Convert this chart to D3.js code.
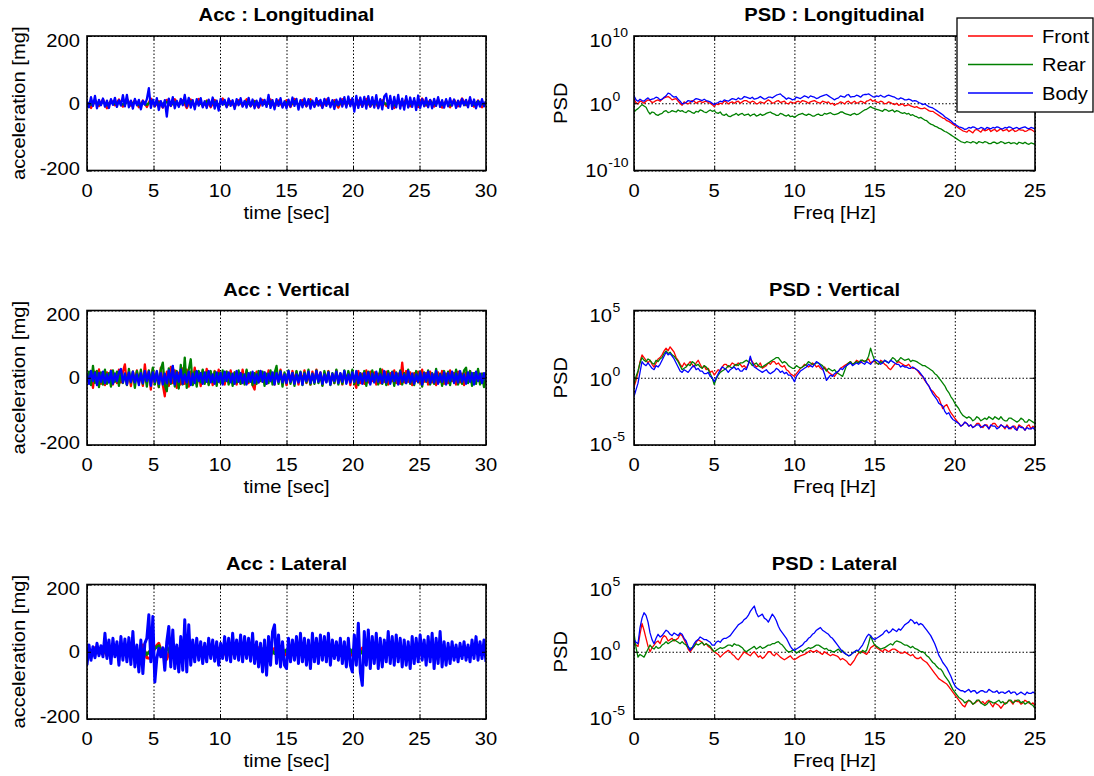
<!DOCTYPE html>
<html>
<head>
<meta charset="utf-8">
<script src="https://cdn.jsdelivr.net/npm/d3@7"></script>
<style>
body { margin: 0; background: #fff; }
svg text { font-family: Arial, "Liberation Sans", Helvetica, sans-serif; fill: #000; }
</style>
</head>
<body>
<svg id="fig" width="1094" height="776"></svg>
<script>
// ---- tick labels / categories ----
var timeTicks = [0, 5, 10, 15, 20, 25, 30];
var accTicks = [-200, 0, 200];
var freqTicks = [0, 5, 10, 15, 20, 25];
var psdTicksLon = [-10, 0, 10];     // exponents of 10
var psdTicksVL = [-5, 0, 5];
var sensorNames = ["Front", "Rear", "Body"];
var sensorColors = ["#ff0000", "#008000", "#0000ff"];

// ---- acceleration [mg], evenly sampled over 0..30 s ----
var accLonFront = [3,-14,10,-8,12,-15,9,-6,11,-10, 13,-7,9,-12,8,-11,14,-9,6,-13, 10,-8,12,-6,9,-14,11,-7,13,-9,
  8,-12,10,-7,14,-10,6,-11,9,-8, 12,-9,7,-13,10,-6,11,-12,8,-10, 9,-11,13,-7,10,-9,12,-8,6,-12,
  11,-8,9,-13,12,-7,10,-11,8,-9, 13,-10,7,-12,9,-8,11,-14,10,-6, 12,-9,8,-11,14,-7,9,-10,12,-13,
  8,-12,10,-9,14,-6,11,-10,8,-12, 5];
var accLonRear = [2,-5,6,-3,4,-6,5,-2,3,-4, 5,-3,4,-6,2,-5,6,-4,3,-2, 4,-5,3,-6,5,-2,6,-4,2,-5,
  6,-3,4,-5,3,-6,2,-4,5,-3, 4,-6,5,-2,3,-5,6,-3,4,-4, 3,-5,6,-4,2,-3,5,-6,4,-2,
  5,-4,3,-6,6,-2,4,-5,3,-3, 6,-5,2,-4,5,-3,4,-6,3,-2, 4,-3,6,-5,2,-4,5,-3,6,-5,
  3,-6,4,-2,5,-4,3,-5,6,-3, 2];
var accLonBody = [5,-12,18,-8,22,-15,10,-6,14,-10, 8,-14,12,-5,16,-11,9,-7,24,-9, 25,-12,8,-16,13,-6,10,-18,7,-4,
  12,45,-14,11,-9,15,-20,6,-12,9, -40,14,-8,18,-15,7,-11,13,-6,25, -10,16,-13,9,-18,12,-7,15,-12,6,
  -14,11,-9,17,-16,8,-22,13,-5,10, -12,14,-8,9,-17,12,-6,15,-10,7, -13,16,-9,11,-15,8,-12,14,-7,10,
  -11,25,-14,9,-18,12,-8,15,-13,6, -15,11,-10,17,-8,13,-19,9,-12,14, -9,12,-16,8,-11,15,-7,10,-14,13,
  -8,16,-12,9,-17,11,-6,14,-10,18, -13,20,-9,15,-25,22,-14,17,-11,19, -16,21,-10,18,-13,24,-15,12,-18,20,
  28,-14,22,-17,19,-12,25,-16,14,-19, 21,-13,17,-11,15,-20,23,-14,12,-9, 16,-12,10,-15,13,-8,18,-11,9,-13,
  12,-9,15,-7,11,-14,8,-10,13,-6, 10,-12,18,-8,11,-15,7,-10,12,-9, 6];

var accVerFront = [8,-15,20,-30,18,-12,25,-18,14,-22, 16,-10,22,-20,12,-16,24,-14,18,40, -20,15,-25,18,-12,22,-16,10,-24,40,
  -15,20,-35,26,-18,14,-28,30,-22,-55, 18,-24,32,-16,22,-30,15,-20,28,-18, 24,-26,18,-14,30,-20,16,-25,22,-12,
  26,-18,14,-22,20,-10,24,-16,12,-20, 18,-14,22,-12,16,-20,14,-18,24,-10, 20,-16,12,-22,-35,18,-14,20,-12,16,
  -18,22,-10,14,-20,18,-12,24,-16,10, -22,16,-14,20,-12,18,-20,14,-10,22, -16,12,-20,18,-14,24,-10,16,-22,14,
  -12,20,-18,10,-16,22,-14,12,-20,18, -10,16,-22,14,-12,-30,20,-16,12,-18, 22,-14,18,-10,16,-20,12,-16,24,-12,
  18,-20,14,-10,22,-16,12,-18,45,-14, 20,-12,16,-22,14,-10,18,-16,24,-12, 14,-20,18,-14,10,-22,16,-12,20,-18,
  12,-16,22,-10,14,-20,18,-14,12,-22, 16,-12,20,-18,14,-10,22,-16,12,-20, 10];
var accVerRear = [-10,18,-22,35,-15,20,-28,16,-20,24, -18,14,-26,22,-12,18,-24,20,-16,12, -22,26,-14,18,-30,20,-12,24,-18,16,
  -26,22,-14,30,-20,18,-28,24,45,-22, -40,28,-18,34,-26,20,-32,38,-20,60, -30,24,55,-22,18,-26,20,-14,24,-18,
  16,-22,20,-12,18,-24,14,-16,22,-10, 18,-20,12,-24,16,-14,22,-18,10,-20, 24,-12,16,-22,14,-18,20,-10,18,-24,
  12,-16,22,-20,14,35,-18,20,-26,16, -12,22,-18,14,-24,20,-10,18,-22,16, -14,24,-20,12,-18,22,-16,10,-24,20,
  -12,18,-22,14,-16,24,-20,12,-18,22, -14,20,-10,24,-18,16,-22,14,-12,20, -24,18,-16,22,-12,14,-20,26,-18,12,
  -22,20,-14,18,-24,16,-12,22,-20,14, -16,24,-18,12,-22,20,-14,18,-26,16, -12,22,-20,14,-18,26,-16,12,-24,20,
  -14,18,-22,16,-12,24,-20,14,-18,22, 30,-16,20,-24,14,-18,26,-20,12,-28, 16];
var accVerBody = [12,-18,20,-10,16,-22,14,-12,18,-16, 10,-14,20,-18,12,-10,16,26,-14,12, -20,16,-12,18,-14,10,-22,14,-16,20,
  -10,18,-24,16,-12,20,-18,14,-20,12, -16,22,-14,35,-20,16,-12,24,-18,10, -14,18,-22,12,-16,20,-10,14,-18,16,
  -12,20,-14,10,-18,16,-12,14,-20,18, -10,16,-14,12,-18,20,-12,14,-16,10, -20,14,-12,18,-16,10,-14,20,-12,16,
  -18,12,-10,16,-20,14,-12,18,-14,10, -16,20,-12,14,-18,10,-14,16,-20,12, -10,18,-16,12,-14,20,-12,16,-18,10,
  -14,16,-20,12,-10,18,-16,14,-12,20, -18,10,-14,16,-12,20,-16,12,-18,14, -10,16,-20,12,-14,18,-12,10,-16,20,
  -14,12,-18,16,-10,14,-20,18,-12,10, -16,20,-14,12,-18,10,-12,16,-20,14, -10,18,-16,12,-14,20,-18,10,-12,16,
  -20,14,-10,18,-16,12,-14,20,-12,10, -18,16,-12,14,-20,18,-10,12,-16,14, -8];

var accLatFront = [8,-10,12,-6,10,-12,9,-8,11,-7, 10,-9,8,-12,20,-18,-20,12,25,-15, -22,14,-10,9,-12,8,-11,10,-8,12,
  -9,11,-7,10,-12,8,-10,9,-6,11, -12,10,-8,12,-9,7,-11,10,-8,9, -10,12,-7,9,-11,8,-10,12,-9,7,
  -11,10,-8,12,-6,9,-12,10,-7,11, -9,8,-12,10,-7,11,-10,9,-8,12, -10,7,-9,11,-12,8,-6,10,-11,9,
  -8,12,-10,7,-9,11,-8,10,15,-6, 8];
var accLatRear = [5,-8,7,-4,9,-6,8,-5,6,-7, 8,-5,7,-9,6,-8,5,10,18,-12, 15,-8,6,-7,9,-5,8,-6,7,-9,
  5,-8,9,-6,7,-5,8,-9,6,-4, 10,-7,5,-8,9,-6,7,-5,8,-7, 6,-9,8,-5,7,-8,9,-6,5,-7,
  8,-6,9,-5,7,-8,6,-9,8,-4, 7,-8,5,-6,9,-7,8,-5,6,-9, 8,-5,7,-9,6,-4,8,-7,9,-6,
  5,-8,7,-6,9,-5,8,12,-6,7, -4];
var accLatBody = [-40,20,-25,15,-18,25,-12,18,-15,55, -20,35,-35,40,-15,30,-40,45,-25,38, -30,42,-38,60,-45,20,-60,35,-65,25,
  40,110,-30,105,-90,-20,10,-15,12,-55, 30,75,-45,65,-50,20,-60,45,-55,95, -60,80,-40,35,-30,40,-25,30,-35,25,
  -30,40,-20,35,-28,30,-40,25,-20,45, -25,40,-30,55,-20,35,-25,50,-30,45, -20,40,-28,55,-35,30,-45,25,-60,35,
  -70,45,-40,60,80,-35,50,-45,30,-40, -50,40,-30,35,-25,45,-35,55,-30,40, -40,35,-50,55,-30,40,-35,50,-25,45,
  -30,55,-40,35,-20,30,-25,40,-35,30, -45,40,-40,-60,50,-40,85,-60,-100,60, -40,65,-50,45,-35,55,-50,40,-45,35,
  -30,60,-35,45,-40,50,-30,40,-45,35, -40,30,-50,45,-35,40,-30,50,-25,35, -40,45,-30,55,-50,40,-35,60,-45,30,
  -40,25,-35,30,-25,20,-30,25,-20,30, -25,20,-30,35,-20,45,-25,30,-20,35, -30];

// ---- PSD, log10 values, evenly sampled over 0..25 Hz (0.125 Hz step) ----
var psdLonFront = [0.6,0.1,-0.1,0.3,0.2,0.0,0.3,0.5,0.4,0.1,0.2,0.4,0.5,0.3,0.6,0.8,0.9,1.0,0.8,0.5,
  0.6,0.7,0.3,0.0,-0.3,0.2,0.0,-0.1,0.1,0.4,0.3,0.0,0.2,0.3,0.1,0.2,0.3,0.1,0.0,-0.2,
  -0.5,-0.1,-0.2,0.0,-0.1,0.3,0.2,-0.1,0.1,0.2,0.0,0.2,0.3,0.0,0.2,0.4,0.4,0.2,0.1,0.3,
  0.2,-0.1,0.0,0.2,0.1,0.0,0.3,0.5,0.3,0.0,0.1,0.3,0.4,0.1,0.2,0.3,0.0,-0.1,0.2,0.1,
  0.0,0.2,0.3,0.1,0.4,0.3,0.2,0.0,0.2,0.3,0.4,0.2,0.1,0.0,0.3,0.2,0.1,0.2,-0.1,0.0,
  -0.3,-0.1,0.0,0.2,0.1,-0.1,0.2,0.3,0.0,0.1,0.3,0.0,0.1,0.3,0.2,0.0,0.3,0.4,0.6,0.3,
  0.4,0.2,0.1,0.3,0.2,-0.1,0.0,0.2,0.1,-0.1,-0.2,0.0,-0.3,-0.2,-0.1,-0.4,-0.3,-0.2,-0.4,-0.5,
  -0.6,-0.5,-0.7,-0.8,-0.8,-0.7,-0.9,-1.1,-1.2,-1.2,-1.4,-1.6,-1.8,-2.0,-2.2,-2.3,-2.6,-2.7,-2.9,-3.1,
  -3.3,-3.5,-3.7,-3.9,-4.1,-4.2,-4.3,-4.0,-4.2,-4.4,-4.0,-3.9,-4.1,-4.3,-3.9,-4.1,-4.0,-3.8,-4.2,-4.0,
  -3.9,-4.2,-4.0,-3.8,-4.1,-4.0,-3.9,-4.2,-4.0,-3.9,-4.2,-4.1,-3.9,-4.0,-4.0,-4.2,-4.1,-3.9,-3.9,-4.1,
  -4.3];
var psdLonRear = [-1.3,-1.0,-0.8,-0.5,-0.2,-0.4,-0.6,-1.2,-1.6,-1.3,-1.4,-1.7,-1.8,-1.6,-1.5,-1.2,-1.1,-1.4,-1.3,-1.1,
  -1.2,-1.3,-1.0,-1.2,-1.1,-1.3,-1.4,-1.1,-1.2,-1.4,-1.5,-1.2,-1.3,-1.0,-1.1,-1.3,-1.4,-1.2,-1.0,-1.2,
  -1.1,-1.4,-1.5,-1.3,-1.7,-1.8,-1.6,-1.9,-2.0,-1.8,-1.7,-1.5,-1.8,-1.6,-1.5,-1.8,-1.7,-1.6,-1.9,-1.7,
  -1.6,-1.9,-1.8,-1.6,-1.8,-1.7,-1.5,-1.4,-1.3,-1.5,-1.6,-1.8,-1.8,-1.5,-1.6,-1.8,-1.9,-1.7,-2.0,-1.9,
  -2.1,-1.9,-1.7,-1.6,-1.5,-1.7,-1.8,-1.6,-1.7,-1.9,-1.9,-1.7,-1.6,-1.8,-1.8,-1.5,-1.6,-1.5,-1.4,-1.6,
  -1.7,-1.6,-1.5,-1.3,-1.3,-1.5,-1.6,-1.7,-1.8,-1.6,-1.5,-1.7,-1.6,-1.4,-1.2,-1.0,-0.9,-0.7,-0.5,-0.7,
  -0.8,-0.9,-1.0,-1.1,-1.2,-0.9,-1.0,-1.2,-1.1,-1.0,-1.3,-1.1,-1.2,-1.4,-1.5,-1.4,-1.6,-1.5,-1.8,-1.7,
  -1.9,-2.0,-2.2,-2.1,-2.3,-2.5,-2.6,-2.9,-3.1,-3.2,-3.4,-3.5,-3.7,-3.8,-4.0,-4.2,-4.3,-4.5,-4.7,-4.9,
  -5.1,-5.3,-5.5,-5.7,-5.8,-5.9,-5.7,-5.8,-5.9,-5.7,-5.8,-6.0,-5.7,-5.8,-5.9,-5.7,-5.8,-6.0,-6.0,-5.8,
  -5.8,-6.0,-5.9,-5.7,-5.8,-6.0,-5.9,-5.8,-6.0,-5.9,-5.9,-6.1,-5.8,-5.9,-6.0,-5.8,-6.0,-6.1,-5.9,-6.0,
  -6.1];
var psdLonBody = [1.1,0.5,0.3,0.6,0.4,0.3,0.6,0.8,0.5,0.6,0.7,0.9,0.8,0.5,0.6,0.9,1.1,1.5,1.4,1.1,
  0.9,1.0,0.6,0.3,-0.1,0.0,0.1,0.4,0.3,0.2,0.5,0.7,0.6,0.5,0.4,0.6,0.4,0.3,0.2,0.0,
  -0.2,0.0,0.1,0.3,0.2,0.5,0.4,0.3,0.5,0.7,0.6,0.5,0.8,0.6,0.7,1.0,0.9,0.8,0.7,0.9,
  0.6,0.7,0.8,1.0,0.8,0.6,0.7,0.9,0.9,0.8,1.0,1.2,1.3,1.4,1.1,0.9,0.6,0.8,0.7,0.5,
  0.6,0.9,0.8,0.7,0.9,1.1,1.0,0.8,1.1,1.0,0.9,0.7,0.8,1.0,1.1,1.2,1.3,1.1,0.9,0.7,
  0.5,0.7,0.8,1.1,1.0,0.9,1.2,1.3,0.9,1.0,1.0,1.2,1.1,0.9,1.2,1.3,1.3,1.4,1.2,1.0,
  0.9,1.1,1.0,1.2,1.0,0.9,1.1,1.2,1.1,1.0,0.9,0.7,0.6,0.8,0.7,0.5,0.5,0.6,0.5,0.3,
  0.4,0.3,0.1,0.0,-0.2,-0.1,-0.3,-0.5,-0.6,-0.7,-0.9,-1.1,-1.3,-1.5,-1.7,-2.0,-2.2,-2.4,-2.6,-2.9,
  -3.1,-3.3,-3.5,-3.6,-3.7,-3.9,-3.8,-3.6,-3.7,-3.5,-3.6,-3.8,-3.8,-3.6,-3.7,-3.9,-3.6,-3.7,-3.8,-3.6,
  -3.7,-3.5,-3.6,-3.8,-3.8,-3.6,-3.7,-3.5,-3.6,-3.8,-3.7,-3.6,-3.8,-3.7,-3.6,-3.5,-3.7,-3.8,-3.6,-3.7,
  -3.8];

var psdVerFront = [-0.7,-0.2,0.4,1.2,1.7,1.5,1.3,1.1,1.3,1.0,0.8,1.1,1.4,1.5,1.7,2.0,2.2,2.0,2.3,2.1,
  1.9,1.5,1.3,1.0,0.8,1.1,0.9,1.0,1.2,1.0,0.8,1.1,1.3,1.0,0.7,0.9,0.6,0.7,0.4,0.5,
  0.2,0.4,0.6,0.5,0.8,1.0,1.0,0.8,0.9,1.1,1.0,0.9,1.1,1.0,0.8,0.9,0.7,1.0,1.4,1.2,
  1.0,0.8,0.9,1.1,0.7,0.8,0.9,1.1,1.0,1.2,1.2,1.0,1.1,0.9,0.8,0.9,0.6,0.5,0.3,0.2,
  0.1,0.3,0.5,0.7,0.8,1.0,0.9,0.8,0.9,1.1,1.0,0.8,0.9,0.7,0.6,0.8,0.6,0.4,0.3,0.2,
  0.1,0.3,0.5,0.7,0.8,0.9,1.0,1.1,1.2,1.0,1.1,1.3,1.2,1.1,1.3,1.2,1.3,1.4,1.1,1.2,
  1.2,1.1,1.0,1.3,1.2,1.0,0.9,0.7,0.6,0.8,1.0,1.1,1.2,1.1,1.0,0.9,0.9,1.0,0.8,0.7,
  0.7,0.6,0.4,0.2,0.1,-0.2,-0.4,-0.6,-0.9,-1.0,-1.2,-1.4,-1.5,-1.9,-2.3,-2.1,-2.0,-2.3,-2.6,-2.8,
  -3.0,-3.2,-3.4,-3.6,-3.5,-3.3,-3.4,-3.6,-3.5,-3.7,-3.6,-3.4,-3.4,-3.6,-3.7,-3.5,-3.5,-3.8,-3.6,-3.4,
  -3.4,-3.6,-3.7,-3.5,-3.6,-3.8,-3.5,-3.7,-3.8,-3.6,-3.6,-3.9,-3.5,-3.6,-3.7,-3.9,-3.6,-3.5,-3.8,-3.6,
  -3.7];
var psdVerRear = [-0.5,0.1,0.5,1.1,1.5,1.3,1.2,1.4,1.3,1.1,1.0,1.3,1.2,1.4,1.5,1.8,2.0,1.8,1.9,1.7,
  1.6,1.4,1.2,0.9,0.6,0.7,0.8,1.0,0.9,1.2,1.1,0.9,1.0,0.8,0.7,0.9,0.8,0.6,0.3,0.0,
  -0.5,-0.1,0.2,0.4,0.5,0.6,0.7,0.9,0.8,0.7,0.9,1.0,0.9,1.1,1.1,1.2,1.3,1.2,1.1,0.9,
  1.0,1.1,0.9,0.8,0.8,0.9,1.0,1.1,1.2,1.3,1.4,1.5,1.5,1.3,1.1,1.2,1.1,0.9,0.8,0.7,
  0.7,0.9,0.8,0.7,0.8,0.9,1.0,1.2,1.1,1.0,1.0,1.1,1.1,1.0,0.9,0.7,0.5,0.7,0.6,0.5,
  0.6,0.4,0.3,0.2,0.1,0.5,0.9,1.1,1.2,1.0,1.1,1.2,1.1,1.3,1.3,1.2,1.3,1.6,2.2,1.7,
  1.3,1.1,1.0,1.2,1.1,1.3,1.2,1.1,1.3,1.5,1.4,1.2,1.3,1.5,1.4,1.3,1.35,1.4,1.2,1.3,
  1.25,1.2,1.1,1.0,0.9,0.9,0.8,0.7,0.6,0.5,0.3,0.2,0.0,-0.2,-0.4,-0.6,-0.9,-1.1,-1.4,-1.6,
  -1.9,-2.1,-2.3,-2.6,-2.8,-2.9,-3.0,-2.9,-3.0,-3.2,-3.1,-2.9,-3.0,-3.2,-3.1,-3.0,-3.1,-2.9,-3.0,-3.1,
  -2.9,-3.0,-3.1,-2.9,-3.1,-3.2,-3.2,-3.0,-3.0,-3.1,-3.2,-3.3,-3.2,-3.0,-3.1,-3.3,-3.3,-3.1,-3.2,-3.3,
  -3.4];
var psdVerBody = [-1.4,-0.9,-0.4,0.4,1.2,1.0,0.9,1.1,0.9,0.7,0.6,0.9,0.8,1.0,1.3,1.6,1.9,1.7,1.8,1.6,
  1.4,1.1,0.8,0.5,0.4,0.6,0.5,0.4,0.6,0.8,0.9,0.6,0.7,0.5,0.5,0.3,0.3,0.4,0.1,0.0,
  -0.3,0.0,0.3,0.6,0.8,0.7,0.6,0.4,0.6,0.7,0.8,0.6,0.7,0.5,0.5,0.7,0.6,1.0,1.6,1.1,
  0.8,0.7,0.6,0.5,0.4,0.5,0.6,0.4,0.3,0.4,0.5,0.7,0.6,0.4,0.5,0.3,0.4,0.2,0.2,0.0,
  -0.3,0.1,0.3,0.5,0.6,0.7,0.8,1.0,0.9,0.8,1.0,1.2,1.1,0.9,0.7,0.3,-0.2,0.0,0.2,0.1,
  0.3,0.4,0.5,0.7,0.6,0.8,0.9,1.0,1.1,0.9,1.0,1.1,1.0,1.2,1.1,1.0,1.2,1.1,1.0,1.2,
  1.35,1.3,1.2,1.0,1.1,1.3,1.2,1.1,1.3,1.2,1.1,1.0,1.0,0.8,0.9,0.8,0.8,0.7,0.7,0.8,
  0.7,0.6,0.5,0.3,0.1,-0.1,-0.4,-0.6,-0.9,-1.2,-1.4,-1.6,-1.9,-2.0,-2.1,-2.5,-2.7,-2.6,-2.9,-3.1,
  -3.2,-3.3,-3.4,-3.6,-3.5,-3.3,-3.4,-3.6,-3.5,-3.7,-3.6,-3.5,-3.5,-3.7,-3.6,-3.5,-3.6,-3.8,-3.5,-3.6,
  -3.6,-3.8,-3.7,-3.5,-3.6,-3.7,-3.6,-3.8,-3.7,-3.6,-3.8,-3.9,-3.6,-3.7,-3.7,-3.9,-3.7,-3.8,-3.8,-3.7,
  -3.9];

var psdLatFront = [0.75,0.5,0.4,1.3,2.1,1.6,1.0,0.4,0.0,0.3,0.5,0.7,0.8,0.6,1.0,1.2,1.1,0.8,0.9,1.0,
  0.8,0.9,1.0,1.3,1.2,0.9,0.6,0.2,0.0,0.2,0.4,0.7,0.9,0.8,0.7,0.5,0.6,0.4,0.3,0.1,
  0.0,-0.1,-0.2,-0.4,-0.25,-0.1,0.0,0.1,0.0,-0.2,-0.3,-0.5,-0.6,-0.4,-0.2,0.0,-0.1,-0.2,-0.3,-0.1,
  0.0,-0.2,-0.4,-0.3,-0.5,-0.4,-0.2,0.0,0.0,-0.2,-0.3,-0.1,-0.25,-0.4,-0.5,-0.6,-0.5,-0.4,-0.3,-0.5,
  -0.6,-0.5,-0.4,-0.3,-0.25,-0.2,-0.1,0.0,0.1,0.0,0.0,0.1,0.0,-0.1,-0.2,0.0,-0.1,-0.2,-0.3,-0.2,
  -0.25,-0.3,-0.4,-0.6,-0.5,-0.6,-0.7,-0.9,-1.0,-0.8,-0.6,-0.3,-0.1,0.0,0.0,-0.1,-0.2,0.0,0.3,0.4,
  0.5,0.3,0.2,0.1,0.0,0.2,0.1,0.0,0.1,0.2,0.2,0.1,0.0,-0.1,-0.1,0.0,-0.1,-0.2,-0.3,-0.2,
  -0.4,-0.5,-0.5,-0.4,-0.6,-0.7,-0.8,-1.0,-1.2,-1.4,-1.6,-1.8,-2.0,-2.1,-2.2,-2.3,-2.4,-2.6,-2.8,-3.0,
  -3.2,-3.4,-3.6,-3.8,-4.0,-4.1,-3.8,-3.6,-3.7,-3.9,-3.8,-3.7,-3.6,-3.8,-3.7,-3.9,-3.7,-3.6,-3.9,-4.1,
  -3.8,-3.9,-4.0,-4.2,-4.0,-3.8,-3.8,-3.6,-3.7,-3.9,-3.6,-3.7,-3.7,-3.9,-3.8,-3.6,-3.7,-3.8,-3.9,-3.8,
  -4.0];
var psdLatRear = [1.4,0.3,-0.4,-0.2,-0.3,-0.4,-0.1,0.2,0.5,0.3,0.2,0.4,0.25,0.3,0.5,0.6,0.75,0.6,0.7,0.8,
  0.9,0.8,0.7,0.6,0.75,0.6,0.5,0.3,0.25,0.3,0.4,0.6,0.5,0.6,0.7,0.5,0.6,0.5,0.4,0.2,
  0.0,0.1,0.2,0.3,0.25,0.3,0.4,0.5,0.5,0.4,0.6,0.5,0.5,0.4,0.3,0.1,0.0,0.1,0.2,0.3,
  0.4,0.2,0.3,0.4,0.25,0.3,0.4,0.5,0.5,0.6,0.6,0.7,0.75,0.6,0.5,0.3,0.1,0.0,0.0,0.1,
  0.1,-0.1,0.0,0.1,0.0,0.1,0.2,0.3,0.25,0.3,0.4,0.5,0.5,0.4,0.3,0.2,0.25,0.1,0.1,0.0,
  0.0,0.1,0.2,0.0,0.1,-0.1,-0.2,-0.3,-0.25,-0.1,0.0,0.1,0.0,-0.1,0.1,0.0,0.1,0.6,1.2,0.8,
  0.5,0.4,0.3,0.2,0.25,0.3,0.4,0.5,0.6,0.5,0.7,0.8,0.75,0.7,0.6,0.5,0.5,0.4,0.3,0.4,
  0.25,0.2,0.1,0.0,0.0,-0.1,-0.3,-0.4,-0.6,-0.8,-0.9,-1.1,-1.25,-1.3,-1.5,-1.8,-2.0,-2.2,-2.5,-2.8,
  -3.0,-3.2,-3.4,-3.5,-3.6,-3.8,-3.7,-3.6,-3.7,-3.9,-3.8,-3.6,-3.6,-3.8,-3.9,-4.0,-3.9,-3.7,-3.7,-3.8,
  -3.8,-3.7,-3.6,-3.8,-3.7,-3.9,-3.8,-3.6,-3.6,-3.8,-3.7,-3.6,-3.6,-3.8,-3.7,-3.9,-3.8,-3.7,-3.9,-4.0,
  -4.2];
var psdLatBody = [0.9,0.7,0.6,1.8,2.5,2.9,2.7,2.2,1.4,0.9,0.6,1.0,1.3,1.1,1.2,1.4,1.6,1.5,1.3,1.2,
  1.4,1.3,1.2,1.4,1.3,1.0,0.8,0.4,0.1,0.3,0.6,0.8,0.9,1.1,1.0,0.9,0.9,0.8,0.7,0.5,
  0.5,0.7,0.8,0.7,0.9,1.0,1.0,1.1,1.2,1.4,1.6,1.8,2.0,2.1,2.2,2.4,2.5,2.7,3.0,3.2,
  3.4,2.9,2.6,2.7,2.8,2.5,2.4,2.2,2.5,2.8,2.6,2.3,1.9,1.6,1.4,1.2,1.0,0.7,0.4,0.2,
  0.1,0.2,0.3,0.4,0.5,0.7,0.8,1.0,1.1,1.3,1.4,1.6,1.7,1.8,1.6,1.5,1.4,1.3,1.1,1.0,
  0.8,0.6,0.4,0.2,0.0,-0.1,-0.2,-0.3,-0.25,-0.1,0.0,0.1,0.1,0.3,0.5,0.8,1.1,1.3,1.2,1.0,
  0.9,1.0,1.1,1.2,1.3,1.5,1.6,1.4,1.5,1.7,1.6,1.5,1.7,1.6,1.8,2.0,2.1,2.2,2.4,2.3,
  2.1,2.2,2.0,2.1,2.0,1.8,1.6,1.4,1.2,0.9,0.6,0.2,-0.25,-0.5,-0.8,-1.0,-1.2,-1.5,-1.8,-2.2,
  -2.5,-2.7,-2.8,-2.9,-2.9,-3.0,-2.9,-2.8,-3.0,-2.9,-2.9,-3.1,-3.0,-2.9,-2.9,-3.0,-3.0,-2.8,-2.9,-3.0,
  -3.0,-2.9,-3.1,-3.0,-3.0,-3.1,-3.0,-2.9,-3.1,-3.0,-3.0,-3.2,-3.1,-3.0,-3.1,-3.2,-3.0,-3.1,-3.1,-3.0,
  -3.1];

// ---- layout ----
var SX = 1.12;                 // horizontal stretch of the original text
var FS = 18;
var colX = [[87, 486], [634, 1035]];
var rowY = [[36, 170.5], [310.5, 445], [584.5, 719]];
var svg = d3.select("#fig");
var clipN = 0;

function label(g, x, y, str, o) {
    o = o || {};
    return g.append("text")
        .attr("transform", "translate(" + x + "," + y + ")" + (o.rot ? " rotate(" + o.rot + ")" : "") + " scale(" + SX + ",1)")
        .attr("text-anchor", o.anchor || "middle")
        .attr("font-size", o.size || FS)
        .attr("font-weight", o.bold ? "bold" : "normal")
        .text(str);
}

function frame(g, x, y, xTickVals, yTickVals) {
    var x0 = x.range()[0], x1 = x.range()[1], y0 = y.range()[1], y1 = y.range()[0];
    // dotted grid
    g.append("g").attr("transform", "translate(0," + y1 + ")")
        .call(d3.axisBottom(x).tickValues(xTickVals).tickSize(-(y1 - y0)).tickFormat(""))
        .call(function(a) { a.select(".domain").remove(); })
        .selectAll("line").attr("stroke", "#000").attr("stroke-width", 1).attr("stroke-dasharray", "1.5,2");
    g.append("g").attr("transform", "translate(" + x0 + ",0)")
        .call(d3.axisLeft(y).tickValues(yTickVals).tickSize(-(x1 - x0)).tickFormat(""))
        .call(function(a) { a.select(".domain").remove(); })
        .selectAll("line").attr("stroke", "#000").attr("stroke-width", 1).attr("stroke-dasharray", "1.5,2");
    var id = "clip" + (clipN++);
    g.append("clipPath").attr("id", id).append("rect")
        .attr("x", x0).attr("y", y0).attr("width", x1 - x0).attr("height", y1 - y0);
    return id;
}

function box(g, x, y, xTickVals, yTickVals) {
    var x0 = x.range()[0], x1 = x.range()[1], y0 = y.range()[1], y1 = y.range()[0];
    // inward tick marks on all four sides
    [[d3.axisBottom(x), "translate(0," + y1 + ")", xTickVals],
     [d3.axisTop(x), "translate(0," + y0 + ")", xTickVals],
     [d3.axisLeft(y), "translate(" + x0 + ",0)", yTickVals],
     [d3.axisRight(y), "translate(" + x1 + ",0)", yTickVals]].forEach(function(a) {
        g.append("g").attr("transform", a[1])
            .call(a[0].tickValues(a[2]).tickSize(-4).tickFormat(""))
            .call(function(s) { s.select(".domain").remove(); })
            .selectAll("line").attr("stroke", "#000").attr("stroke-width", 1);
    });
    g.append("rect").attr("x", x0).attr("y", y0).attr("width", x1 - x0).attr("height", y1 - y0)
        .attr("fill", "none").attr("stroke", "#000").attr("stroke-width", 1.6);
}

function accPanel(row, title, series, lw) {
    var g = svg.append("g");
    var x = d3.scaleLinear().domain([0, 30]).range(colX[0]);
    var y = d3.scaleLinear().domain([-200, 200]).range([rowY[row][1], rowY[row][0]]);
    var clip = frame(g, x, y, timeTicks, accTicks);
    var dg = g.append("g").attr("clip-path", "url(#" + clip + ")");
    series.forEach(function(s, k) {
        var n = s.length;
        var line = d3.line()
            .x(function(d, i) { return x(i * 30 / (n - 1)); })
            .y(function(d) { return y(d); });
        dg.append("path").attr("d", line(s)).attr("fill", "none")
            .attr("stroke", sensorColors[k]).attr("stroke-width", lw).attr("stroke-linejoin", "round");
    });
    box(g, x, y, timeTicks, accTicks);
    var yb = rowY[row][1], yt = rowY[row][0];
    timeTicks.forEach(function(t) { label(g, x(t), yb + 26, String(t)); });
    accTicks.forEach(function(v, i) {
        var off = i === accTicks.length - 1 ? 4 : (i === 0 ? -2.5 : 0);
        label(g, x(0) - 7, y(v) + off + 6.5, String(v), { anchor: "end" });
    });
    label(g, (x(0) + x(30)) / 2, yt - 15, title, { bold: true });
    label(g, (x(0) + x(30)) / 2, yb + 48, "time [sec]");
    label(g, 25, (yt + yb) / 2, "acceleration [mg]", { rot: -90 });
}

function psdPanel(row, title, expTicks, series) {
    var g = svg.append("g");
    var x = d3.scaleLinear().domain([0, 25]).range(colX[1]);
    var y = d3.scaleLog().domain([Math.pow(10, expTicks[0]), Math.pow(10, expTicks[2])]).range([rowY[row][1], rowY[row][0]]);
    var yVals = expTicks.map(function(e) { return Math.pow(10, e); });
    var clip = frame(g, x, y, freqTicks, yVals);
    var dg = g.append("g").attr("clip-path", "url(#" + clip + ")");
    series.forEach(function(s, k) {
        var n = s.length;
        var line = d3.line()
            .x(function(d, i) { return x(i * 25 / (n - 1)); })
            .y(function(d) { return y(Math.pow(10, d)); });
        dg.append("path").attr("d", line(s)).attr("fill", "none")
            .attr("stroke", sensorColors[k]).attr("stroke-width", 1.3).attr("stroke-linejoin", "round");
    });
    box(g, x, y, freqTicks, yVals);
    var yb = rowY[row][1], yt = rowY[row][0];
    freqTicks.forEach(function(t) { label(g, x(t), yb + 26, String(t)); });
    expTicks.forEach(function(e, i) {
        var off = i === expTicks.length - 1 ? 11 : (i === 0 ? 6 : 8);
        var yBase = y(Math.pow(10, e)) + off;
        var xEnd = x(0) - 22;
        var sup = label(g, 0, 0, String(e), { anchor: "start", size: 12.5 });
        var supW = sup.node().getComputedTextLength() * SX;
        var baseEnd = Math.min(xEnd, xEnd + 16 - supW);
        sup.attr("transform", "translate(" + (baseEnd + 0.5) + "," + (yBase - 10) + ") scale(" + SX + ",1)");
        label(g, baseEnd, yBase, "10", { anchor: "end" });
    });
    label(g, (x(0) + x(25)) / 2, yt - 15, title, { bold: true });
    label(g, (x(0) + x(25)) / 2, yb + 48, "Freq [Hz]");
    label(g, x(0) - 67, (yt + yb) / 2, "PSD", { rot: -90 });
}

accPanel(0, "Acc : Longitudinal", [accLonFront, accLonRear, accLonBody], 2.3);
accPanel(1, "Acc : Vertical", [accVerFront, accVerRear, accVerBody], 2.3);
accPanel(2, "Acc : Lateral", [accLatFront, accLatRear, accLatBody], 3);
psdPanel(0, "PSD : Longitudinal", psdTicksLon, [psdLonFront, psdLonRear, psdLonBody]);
psdPanel(1, "PSD : Vertical", psdTicksVL, [psdVerFront, psdVerRear, psdVerBody]);
psdPanel(2, "PSD : Lateral", psdTicksVL, [psdLatFront, psdLatRear, psdLatBody]);

// ---- legend ----
var lg = svg.append("g").attr("transform", "translate(957,18)");
lg.append("rect").attr("x", 0).attr("y", 0).attr("width", 136).attr("height", 94)
    .attr("fill", "#fff").attr("stroke", "#000").attr("stroke-width", 1.3);
var ly = d3.scalePoint().domain(sensorNames).range([18, 75]);
sensorNames.forEach(function(nm, k) {
    lg.append("line").attr("x1", 11).attr("x2", 76).attr("y1", ly(nm)).attr("y2", ly(nm))
        .attr("stroke", sensorColors[k]).attr("stroke-width", 1.3);
    label(lg, 85, ly(nm) + 6.5, nm, { anchor: "start" });
});
</script>
</body>
</html>
